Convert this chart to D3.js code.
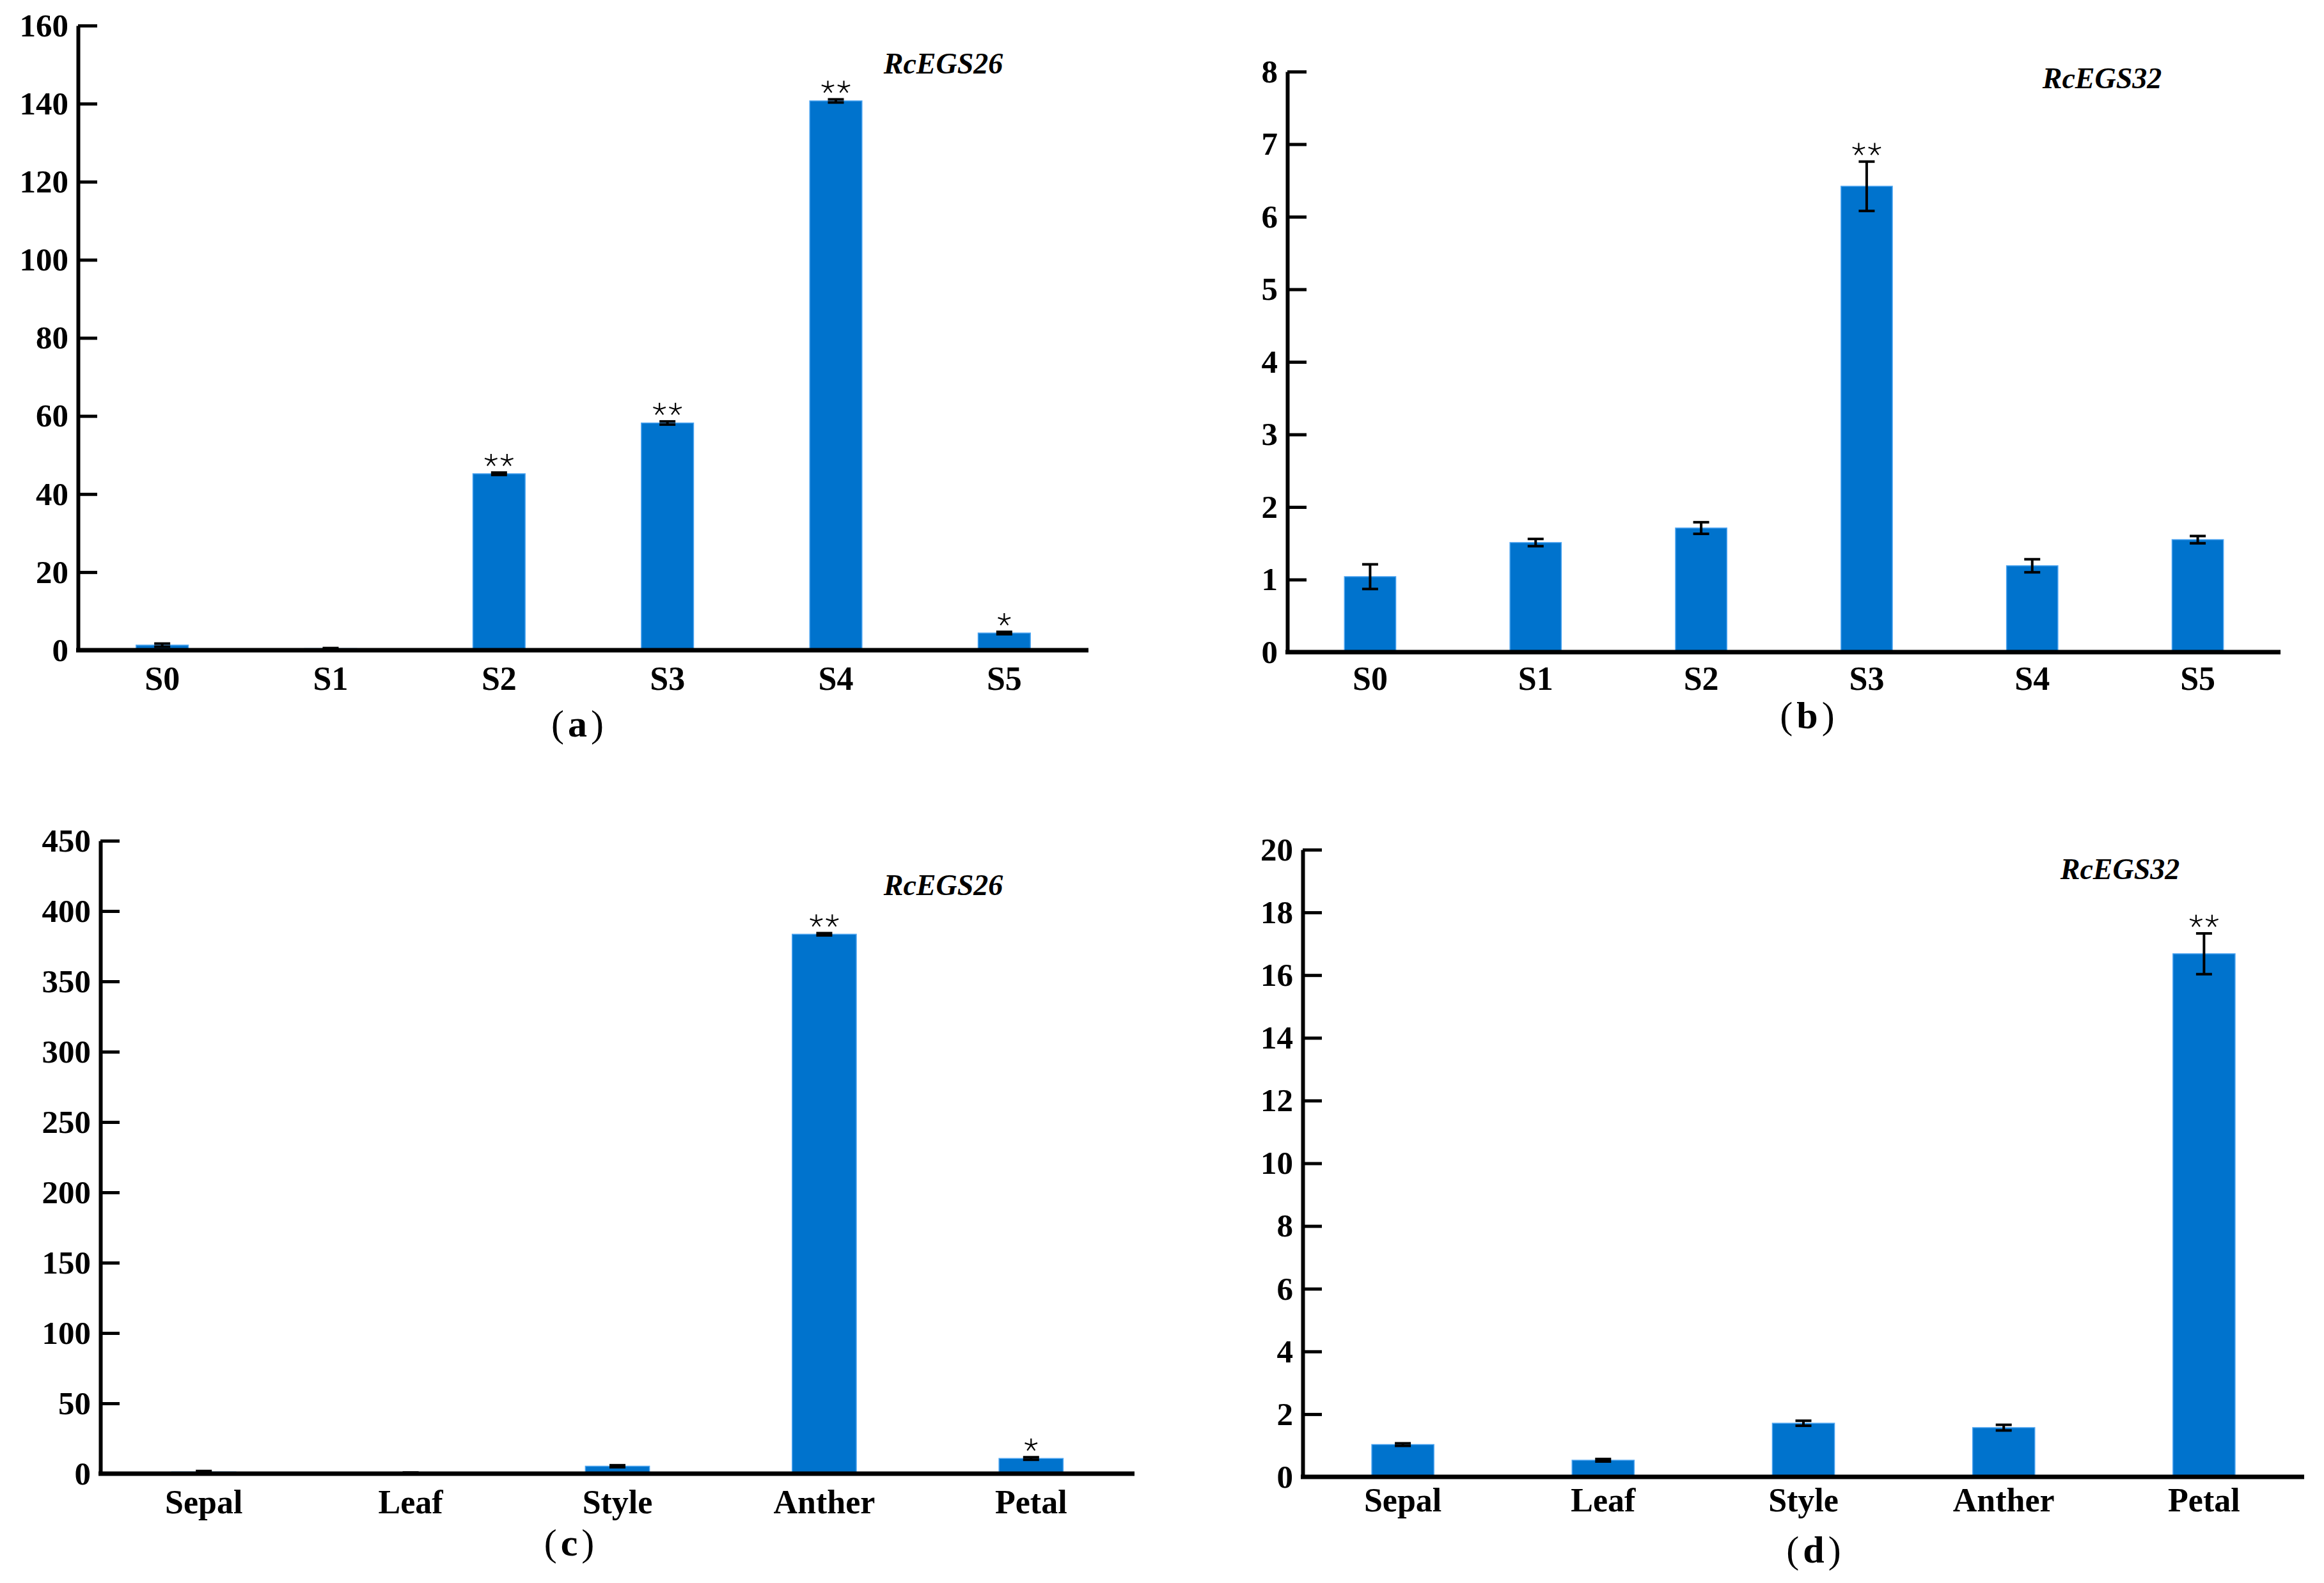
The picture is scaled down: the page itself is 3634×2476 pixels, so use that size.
<!DOCTYPE html>
<html>
<head>
<meta charset="utf-8">
<script src="https://cdn.jsdelivr.net/npm/d3@7"></script>
<style>
    body { margin: 0; background: #fff; }
    svg { display: block; }
    .tick text { font-family: "Liberation Serif", "Times New Roman", serif; font-weight: bold; }
</style>
</head>
<body>
<div id="chart"></div>
<script>

// categories
const stageCats = ["S0", "S1", "S2", "S3", "S4", "S5"];
const tissueCats = ["Sepal", "Leaf", "Style", "Anther", "Petal"];

// (a) RcEGS26 over flower stages
const egs26Stage = [1.3, 0.4, 45.2, 58.2, 140.7, 4.4];
const egs26StageErr = [0.4, 0.15, 0.3, 0.4, 0.4, 0.3];
const egs26StageSig = ["", "", "**", "**", "**", "*"];

// (b) RcEGS32 over flower stages
const egs32Stage = [1.04, 1.51, 1.71, 6.42, 1.19, 1.55];
const egs32StageErr = [0.17, 0.05, 0.08, 0.34, 0.09, 0.05];
const egs32StageSig = ["", "", "", "**", "", ""];

// (c) RcEGS26 in tissues
const egs26Tissue = [1.2, 0.5, 5.3, 383.5, 10.8];
const egs26TissueErr = [0.7, 0.3, 0.7, 0.8, 0.9];
const egs26TissueSig = ["", "", "", "**", "*"];

// (d) RcEGS32 in tissues
const egs32Tissue = [1.03, 0.53, 1.71, 1.57, 16.68];
const egs32TissueErr = [0.04, 0.04, 0.08, 0.09, 0.65];
const egs32TissueSig = ["", "", "", "", "**"];

// y tick values
const ticksA = [0, 20, 40, 60, 80, 100, 120, 140, 160];
const ticksB = [0, 1, 2, 3, 4, 5, 6, 7, 8];
const ticksC = [0, 50, 100, 150, 200, 250, 300, 350, 400, 450];
const ticksD = [0, 2, 4, 6, 8, 10, 12, 14, 16, 18, 20];

const W = 3634, H = 2476;
const serif = '"Liberation Serif", "Times New Roman", serif';
const barColor = "#0073cd";

// panel layout
const panels = [
    {tag: "a", gene: "RcEGS26", cats: stageCats, vals: egs26Stage, errs: egs26StageErr, sig: egs26StageSig, ticks: ticksA,
        x0: 122, x1: 1702, yTop: 40, yZero: 1017, catY: 1079, geneX: 1475, geneY: 115, tagX: 903, tagY: 1152},
    {tag: "b", gene: "RcEGS32", cats: stageCats, vals: egs32Stage, errs: egs32StageErr, sig: egs32StageSig, ticks: ticksB,
        x0: 2013, x1: 3566, yTop: 112, yZero: 1020, catY: 1079, geneX: 3287, geneY: 138, tagX: 2826, tagY: 1139},
    {tag: "c", gene: "RcEGS26", cats: tissueCats, vals: egs26Tissue, errs: egs26TissueErr, sig: egs26TissueSig, ticks: ticksC,
        x0: 157, x1: 1774, yTop: 1315, yZero: 2305, catY: 2367, geneX: 1475, geneY: 1400, tagX: 890, tagY: 2433},
    {tag: "d", gene: "RcEGS32", cats: tissueCats, vals: egs32Tissue, errs: egs32TissueErr, sig: egs32TissueSig, ticks: ticksD,
        x0: 2037, x1: 3603, yTop: 1329, yZero: 2310, catY: 2364, geneX: 3315, geneY: 1375, tagX: 2836, tagY: 2444}
];

// thin five-armed asterisk
const star5 = {
    draw(ctx, size) {
        const r = Math.sqrt(size) / 2;
        for (let k = 0; k < 5; k++) {
            const a = -Math.PI / 2 + k * 2 * Math.PI / 5;
            ctx.moveTo(0, 0);
            ctx.lineTo(r * Math.cos(a), r * Math.sin(a));
        }
    }
};

const svg = d3.select("#chart").append("svg")
    .attr("width", W)
    .attr("height", H)
    .style("background", "#fff");

panels.forEach(p => drawPanel(p));

function drawPanel(p) {
    let g = svg.append("g");

    let x = d3.scaleBand()
        .domain(p.cats)
        .range([p.x0, p.x1])
        .paddingInner(0.69)
        .paddingOuter(0.345);

    let y = d3.scaleLinear()
        .domain([0, d3.max(p.ticks)])
        .range([p.yZero, p.yTop]);

    let rows = p.cats.map((c, i) => ({cat: c, v: p.vals[i], e: p.errs[i], s: p.sig[i]}));

    // bars
    g.append("g")
        .selectAll("rect")
        .data(rows)
        .enter().append("rect")
        .attr("x", d => x(d.cat))
        .attr("width", x.bandwidth())
        .attr("y", d => y(d.v))
        .attr("height", d => y(0) - y(d.v))
        .attr("fill", barColor)
        .attr("stroke", "#4aa3f0")
        .attr("stroke-width", 1.5);

    // error bars
    let capW = 25;
    let eb = g.append("g")
        .attr("stroke", "#000")
        .attr("stroke-width", 4)
        .selectAll("g")
        .data(rows)
        .enter().append("g")
        .attr("transform", d => `translate(${x(d.cat) + x.bandwidth() / 2},0)`);

    eb.append("line")
        .attr("y1", d => y(d.v - d.e))
        .attr("y2", d => y(d.v + d.e));
    eb.append("line")
        .attr("x1", -capW / 2).attr("x2", capW / 2)
        .attr("y1", d => y(d.v + d.e)).attr("y2", d => y(d.v + d.e));
    eb.append("line")
        .attr("x1", -capW / 2).attr("x2", capW / 2)
        .attr("y1", d => y(d.v - d.e)).attr("y2", d => y(d.v - d.e));

    // significance stars
    let symbol = d3.symbol().type(star5).size(420);
    rows.filter(d => d.s.length > 0).forEach(d => {
        let n = d.s.length;
        let cx = x(d.cat) + x.bandwidth() / 2;
        let cy = y(d.v + d.e) - 19;
        for (let k = 0; k < n; k++) {
            g.append("path")
                .attr("d", symbol())
                .attr("transform", `translate(${cx + (k - (n - 1) / 2) * 25},${cy})`)
                .attr("fill", "none")
                .attr("stroke", "#000")
                .attr("stroke-width", 2.2);
        }
    });

    // y axis, ticks pointing inward
    let yAxis = g.append("g")
        .attr("transform", `translate(${p.x0},0)`)
        .call(d3.axisLeft(y)
            .tickValues(p.ticks)
            .tickFormat(d3.format("d"))
            .tickSizeInner(-30)
            .tickSizeOuter(0)
            .tickPadding(15));

    yAxis.select(".domain").attr("stroke-width", 6);
    yAxis.selectAll(".tick line").attr("stroke-width", 5);
    yAxis.selectAll(".tick text")
        .attr("font-size", 51)
        .attr("fill", "#000");

    // x axis
    let xAxis = g.append("g")
        .attr("transform", `translate(0,${p.yZero})`)
        .call(d3.axisBottom(x).tickSize(0).tickSizeOuter(0));

    xAxis.select(".domain")
        .attr("stroke-width", 7)
        .attr("d", `M${p.x0 - 3},0H${p.x1}`);
    xAxis.selectAll(".tick text")
        .attr("y", p.catY - p.yZero)
        .attr("dy", null)
        .attr("font-size", 52)
        .attr("fill", "#000");

    // gene name
    g.append("text")
        .attr("x", p.geneX)
        .attr("y", p.geneY)
        .attr("text-anchor", "middle")
        .style("font-family", serif)
        .style("font-weight", "bold")
        .style("font-style", "italic")
        .style("font-size", "46px")
        .text(p.gene);

    // panel tag
    let tag = g.append("text")
        .attr("x", p.tagX)
        .attr("y", p.tagY)
        .attr("text-anchor", "middle")
        .style("font-family", serif)
        .style("font-size", "60px");
    tag.append("tspan").text("(");
    tag.append("tspan").attr("dx", 6).style("font-weight", "bold").text(p.tag);
    tag.append("tspan").attr("dx", 6).text(")");
}

</script>
</body>
</html>
